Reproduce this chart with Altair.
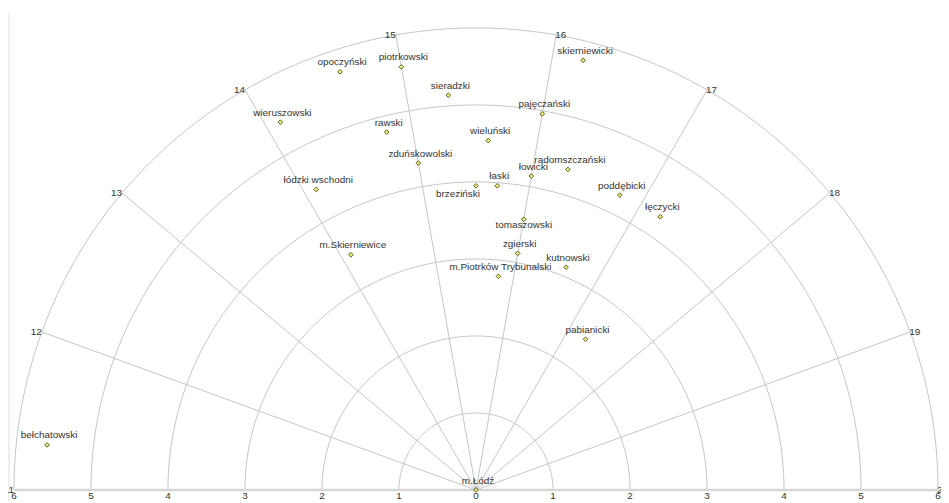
import altair as alt
import pandas as pd

# ---- data ----
names = ["opoczyński", "piotrkowski", "sieradzki", "wieruszowski", "rawski",
         "zduńskowolski", "łódzki wschodni", "skierniewicki", "pajęczański",
         "wieluński", "radomszczański", "łowicki", "łaski", "brzeziński",
         "poddębicki", "m.Skierniewice", "tomaszowski", "zgierski", "kutnowski",
         "m.Piotrków Trybunalski", "łęczycki", "pabianicki", "bełchatowski", "m.Łódź"]
angle_values = [14.6, 15.0, 15.3, 14.1, 14.8,
                15.0, 14.1, 16.2, 16.0,
                15.6, 16.3, 16.0, 15.7, 15.5,
                16.8, 14.1, 16.0, 16.0, 16.6,
                15.8, 17.2, 17.3, 11.3, 15.0]
radius_values = [5.71, 5.58, 5.14, 5.41, 4.79,
                 4.31, 4.42, 5.75, 4.96,
                 4.54, 4.33, 4.14, 3.96, 3.95,
                 4.26, 3.46, 3.57, 3.12, 3.12,
                 2.79, 4.28, 2.42, 5.60, 0.0]

spoke_values = [12, 13, 14, 15, 16, 17, 18, 19]
axis_ends = [11, 20]
angle_labels = [11, 12, 13, 14, 15, 16, 17, 18, 19, 20]
grid_radii = [1, 2, 3, 4, 5, 6]
radius_ticks = [0, 1, 2, 3, 4, 5, 6]

label_below_left = ["brzeziński"]
label_below = ["tomaszowski"]

# ---- layout ----
W, H = 941, 495
CX, CY = 472, 484
PX = 466 / 6.0
XMIN, XMAX = -CX / PX, (W - CX) / PX
YMIN, YMAX = (CY - H) / PX, CY / PX

xs = alt.Scale(domain=[XMIN, XMAX], nice=False, zero=False)
ys = alt.Scale(domain=[YMIN, YMAX], nice=False, zero=False)
FONT = "Liberation Sans"
TXT = "#333333"
GRID = "#c4c4c4"

ANG = "PI * (180 - (datum.v - 11) * 20) / 180"

pts = pd.DataFrame({"name": names, "v": angle_values, "r": radius_values})
spokes = pd.DataFrame({"v": spoke_values})
ends = pd.DataFrame({"v": axis_ends})
alabels = pd.DataFrame({"v": angle_labels})
circles = pd.DataFrame({"r": grid_radii})
rticks = pd.DataFrame({"r": radius_ticks})


def X(f):
    return alt.X(f, type="quantitative", scale=xs, axis=None)


def Y(f):
    return alt.Y(f, type="quantitative", scale=ys, axis=None)


frame = alt.Chart(pd.DataFrame({"k": [0]})).mark_rule(color="#eeeeee", strokeWidth=2).encode(
    x=alt.value(1), y=alt.value(3), y2=alt.value(H))

circle_layer = alt.Chart(circles).transform_calculate(
    deg="sequence(0, 181, 1)"
).transform_flatten(["deg"]).transform_calculate(
    cx="datum.r * cos(datum.deg * PI / 180)",
    cy="datum.r * sin(datum.deg * PI / 180)",
).mark_line(color=GRID, strokeWidth=1).encode(
    x=X("cx"), y=Y("cy"), detail="r:N", order="deg:Q")

spoke_layer = alt.Chart(spokes).transform_calculate(
    x0="0", y0="0",
    ex="6 * cos(" + ANG + ")", ey="6 * sin(" + ANG + ")",
).mark_rule(color=GRID, strokeWidth=1).encode(
    x=X("x0"), y=Y("y0"), x2="ex:Q", y2="ey:Q")

base_layer = alt.Chart(ends).transform_calculate(
    x0="0", y0="0",
    ex="6 * cos(" + ANG + ")", ey="6 * sin(" + ANG + ")",
).mark_rule(color="#d6d6d6", strokeWidth=2.5).encode(
    x=X("x0"), y=Y("y0"), x2="ex:Q", y2="ey:Q")

alab_base = alt.Chart(alabels).transform_calculate(
    ex="6 * cos(" + ANG + ")", ey="6 * sin(" + ANG + ")", t="'' + datum.v")
alab_left = alab_base.transform_filter("datum.v < 15.5").mark_text(
    align="right", baseline="middle", font=FONT, fontSize=10, color=TXT).encode(
    x=X("ex"), y=Y("ey"), text="t:N")
alab_right = alab_base.transform_filter("datum.v > 15.5").mark_text(
    align="left", baseline="middle", font=FONT, fontSize=10, color=TXT, dx=-1).encode(
    x=X("ex"), y=Y("ey"), text="t:N")

rt_base = alt.Chart(rticks).transform_calculate(y0="0", nx="-datum.r", t="'' + datum.r")
rt_right = rt_base.mark_text(baseline="middle", font=FONT, fontSize=10, color=TXT, dy=6.5).encode(
    x=X("r"), y=Y("y0"), text="t:N")
rt_left = rt_base.transform_filter("datum.r > 0").mark_text(
    baseline="middle", font=FONT, fontSize=10, color=TXT, dy=6.5).encode(
    x=X("nx"), y=Y("y0"), text="t:N")

pbase = alt.Chart(pts).transform_calculate(
    px="datum.r * cos(" + ANG + ")", py="datum.r * sin(" + ANG + ")")

point_layer = pbase.mark_point(shape="diamond", filled=True, size=22, fill="#f0f070",
                               stroke="#5c5c30", strokeWidth=1, opacity=1).encode(
    x=X("px"), y=Y("py"))

special = label_below_left + label_below
lab_main = pbase.transform_filter(
    alt.FieldOneOfPredicate(field="name", oneOf=special).__invert__() if False else
    "indexof(" + str(special) + ", datum.name) < 0"
).mark_text(align="center", baseline="middle", font=FONT, fontSize=10, color=TXT,
            dx=2, dy=-9.5).encode(x=X("px"), y=Y("py"), text="name:N")
lab_bl = pbase.transform_filter(
    alt.FieldOneOfPredicate(field="name", oneOf=label_below_left)
).mark_text(align="right", baseline="middle", font=FONT, fontSize=10, color=TXT,
            dx=4, dy=8).encode(x=X("px"), y=Y("py"), text="name:N")
lab_b = pbase.transform_filter(
    alt.FieldOneOfPredicate(field="name", oneOf=label_below)
).mark_text(align="center", baseline="middle", font=FONT, fontSize=10, color=TXT,
            dx=0, dy=5.5).encode(x=X("px"), y=Y("py"), text="name:N")

chart = alt.layer(
    frame, circle_layer, spoke_layer, base_layer, alab_left, alab_right,
    rt_right, rt_left, point_layer, lab_main, lab_bl, lab_b
).properties(
    width=W, height=H, padding=0, autosize=alt.AutoSizeParams(type="none"),
    background="white"
).configure_view(stroke=None)

chart.save("out.html", embed_options={"renderer": "svg", "actions": False})
